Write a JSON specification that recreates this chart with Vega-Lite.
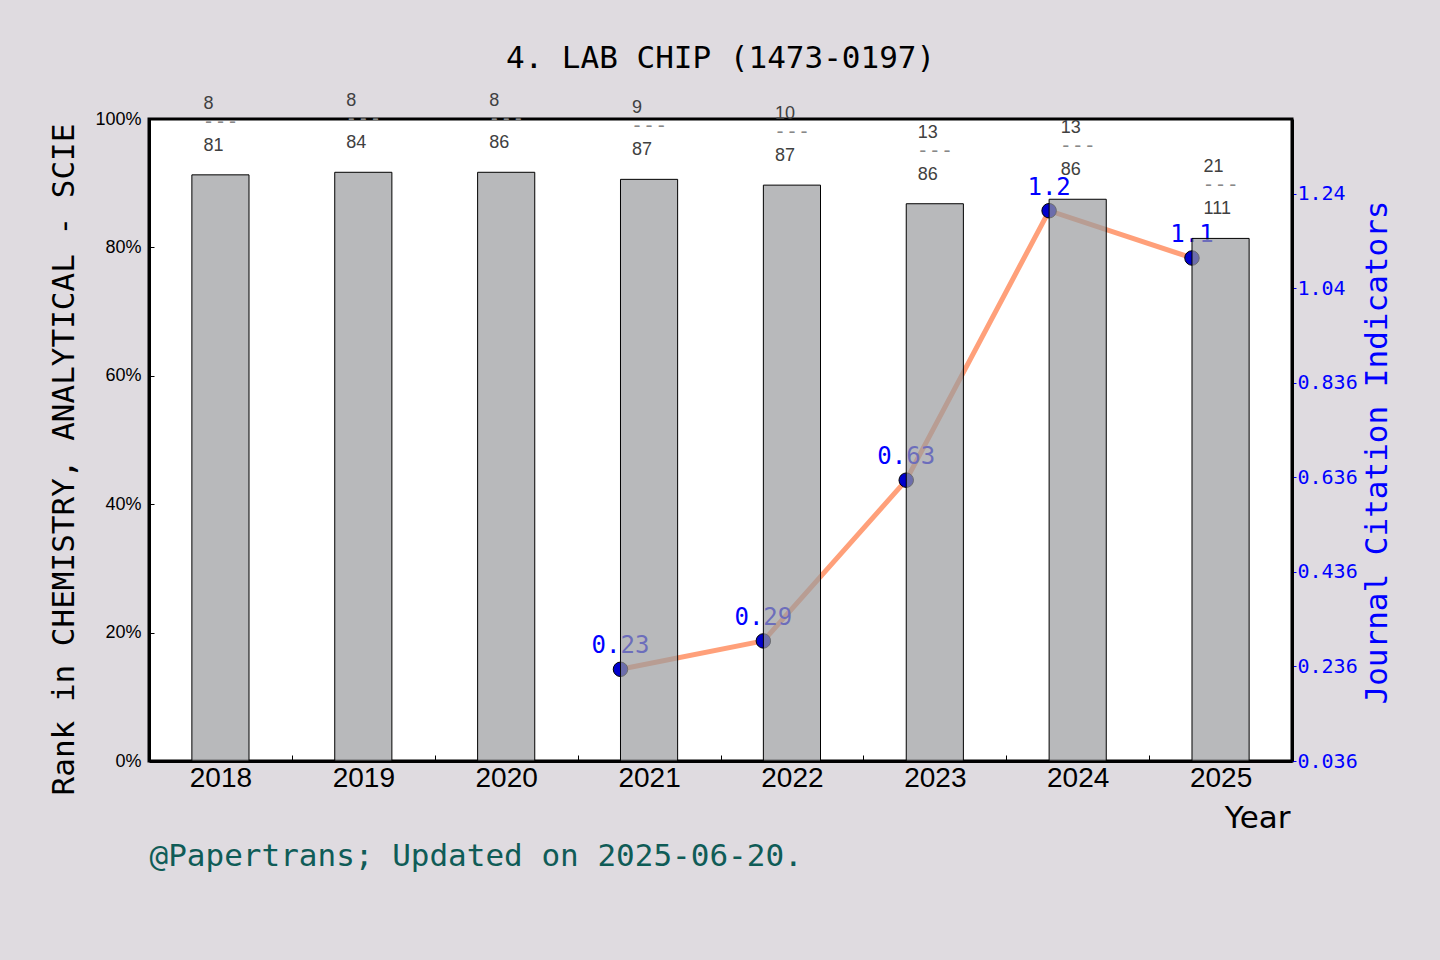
{
  "$schema": "https://vega.github.io/schema/vega-lite/v6.json",
  "width": 1143,
  "height": 642,
  "autosize": {"type": "none"},
  "padding": {"left": 149, "top": 119, "right": 148, "bottom": 199},
  "background": "#dfdbe0",
  "title": {
    "text": "4. LAB CHIP (1473-0197)",
    "font": "DejaVu Sans Mono",
    "fontSize": 31,
    "fontWeight": "normal",
    "color": "black",
    "anchor": "middle",
    "frame": "group",
    "baseline": "alphabetic",
    "offset": -7
  },
  "data": {
    "values": [
      {"year": "2018", "pct": 0.913, "rank": 8, "total": 81, "jci": null},
      {"year": "2019", "pct": 0.917, "rank": 8, "total": 84, "jci": null},
      {"year": "2020", "pct": 0.917, "rank": 8, "total": 86, "jci": null},
      {"year": "2021", "pct": 0.906, "rank": 9, "total": 87, "jci": 0.23},
      {"year": "2022", "pct": 0.897, "rank": 10, "total": 87, "jci": 0.29},
      {"year": "2023", "pct": 0.868, "rank": 13, "total": 86, "jci": 0.63},
      {"year": "2024", "pct": 0.875, "rank": 13, "total": 86, "jci": 1.2},
      {"year": "2025", "pct": 0.814, "rank": 21, "total": 111, "jci": 1.1}
    ]
  },
  "layer": [
    {
      "transform": [{"filter": "datum.jci != null"}],
      "encoding": {
        "x": {
          "field": "year",
          "type": "ordinal",
          "bandPosition": 0.3,
          "scale": {"type": "band", "paddingInner": 0, "paddingOuter": 0},
          "axis": null
        },
        "y": {
          "field": "jci",
          "type": "quantitative",
          "scale": {"domain": [0.036, 1.394], "nice": false, "zero": false},
          "axis": {
            "orient": "right",
            "values": [0.036, 0.236, 0.436, 0.636, 0.836, 1.036, 1.236],
            "format": ".3~r",
            "grid": false,
            "labelFont": "DejaVu Sans Mono",
            "labelFontSize": 20,
            "labelColor": "blue",
            "labelPadding": 1,
            "tickColor": "blue",
            "tickSize": 4,
            "domainColor": "black",
            "domainWidth": 3,
            "title": "Journal Citation Indicators",
            "titleFont": "DejaVu Sans Mono",
            "titleFontSize": 31,
            "titleFontWeight": "normal",
            "titleColor": "blue",
            "titleAngle": 270,
            "titleAlign": "center",
            "titleBaseline": "alphabetic",
            "titleX": 94,
            "titleY": 333
          }
        }
      },
      "layer": [
        {"mark": {"type": "line", "color": "#FFA07A", "strokeWidth": 5}},
        {
          "mark": {
            "type": "circle",
            "fill": "#0000CD",
            "stroke": "black",
            "strokeWidth": 1,
            "size": 210,
            "opacity": 1
          }
        },
        {
          "mark": {
            "type": "text",
            "font": "DejaVu Sans Mono",
            "fontSize": 24,
            "color": "blue",
            "align": "center",
            "baseline": "alphabetic",
            "dy": -16
          },
          "encoding": {"text": {"field": "jci", "type": "quantitative", "format": "~g"}}
        }
      ]
    },
    {
      "encoding": {
        "x": {
          "field": "year",
          "type": "ordinal",
          "scale": {"type": "band", "paddingInner": 0, "paddingOuter": 0},
          "axis": null
        },
        "y": {
          "field": "pct",
          "type": "quantitative",
          "scale": {"domain": [0, 1], "nice": false},
          "axis": {
            "orient": "left",
            "values": [0, 0.2, 0.4, 0.6, 0.8, 1],
            "format": ".0%",
            "grid": false,
            "tickSize": -5,
            "tickColor": "black",
            "labelFont": "Liberation Sans",
            "labelFontSize": 18,
            "labelColor": "black",
            "labelPadding": 13,
            "domainColor": "black",
            "domainWidth": 3,
            "title": "Rank in CHEMISTRY, ANALYTICAL - SCIE",
            "titleFont": "DejaVu Sans Mono",
            "titleFontSize": 31,
            "titleFontWeight": "normal",
            "titleColor": "black",
            "titleAngle": 270,
            "titleAlign": "center",
            "titleBaseline": "alphabetic",
            "titleX": -76,
            "titleY": 340
          }
        }
      },
      "layer": [
        {
          "mark": {
            "type": "bar",
            "width": {"band": 0.4},
            "fill": "#9a9b9e",
            "fillOpacity": 0.7,
            "stroke": "black",
            "strokeWidth": 1
          },
          "encoding": {
            "x": {
              "field": "year",
              "type": "ordinal",
              "scale": {"type": "band", "paddingInner": 0, "paddingOuter": 0},
              "axis": {
                "orient": "bottom",
                "tickBand": "extent",
                "tickSize": -6,
                "tickColor": "black",
                "labelFont": "Liberation Sans",
                "labelFontSize": 28,
                "labelColor": "black",
                "labelAngle": 0,
                "labelPadding": 9,
                "domainColor": "black",
                "domainWidth": 3,
                "grid": false,
                "title": "Year",
                "titleFont": "DejaVu Sans",
                "titleFontSize": 31,
                "titleFontWeight": "normal",
                "titleColor": "black",
                "titleAlign": "right",
                "titleAnchor": "end",
                "titleBaseline": "alphabetic",
                "titleX": 1141,
                "titleY": 66
              }
            }
          }
        },
        {
          "mark": {
            "type": "text",
            "align": "left",
            "baseline": "alphabetic",
            "dx": -17,
            "dy": -66,
            "font": "Liberation Sans",
            "fontSize": 18,
            "color": "#404040"
          },
          "encoding": {"text": {"field": "rank", "type": "quantitative"}}
        },
        {
          "mark": {
            "type": "text",
            "align": "left",
            "baseline": "alphabetic",
            "dx": -18,
            "dy": -47,
            "font": "DejaVu Sans Mono",
            "fontSize": 20,
            "color": "#888888"
          },
          "encoding": {"text": {"value": "---"}}
        },
        {
          "mark": {
            "type": "text",
            "align": "left",
            "baseline": "alphabetic",
            "dx": -17,
            "dy": -24,
            "font": "Liberation Sans",
            "fontSize": 18,
            "color": "#404040"
          },
          "encoding": {
            "text": {"field": "total", "type": "quantitative"},
            "x": {
              "field": "year",
              "type": "ordinal",
              "scale": {"type": "band", "paddingInner": 0, "paddingOuter": 0},
              "axis": {
                "orient": "bottom",
                "labels": false,
                "ticks": false,
                "domain": false,
                "grid": false,
                "title": "@Papertrans; Updated on 2025-06-20.",
                "titleFont": "DejaVu Sans Mono",
                "titleFontSize": 31,
                "titleFontWeight": "normal",
                "titleColor": "#0f5c57",
                "titleAlign": "left",
                "titleAnchor": "start",
                "titleBaseline": "alphabetic",
                "titleX": 0,
                "titleY": 104
              }
            }
          }
        }
      ],
      "resolve": {"axis": {"x": "independent"}}
    }
  ],
  "resolve": {"scale": {"y": "independent"}, "axis": {"x": "independent"}},
  "config": {
    "view": {"stroke": "black", "strokeWidth": 3, "fill": "white"}
  }
}
